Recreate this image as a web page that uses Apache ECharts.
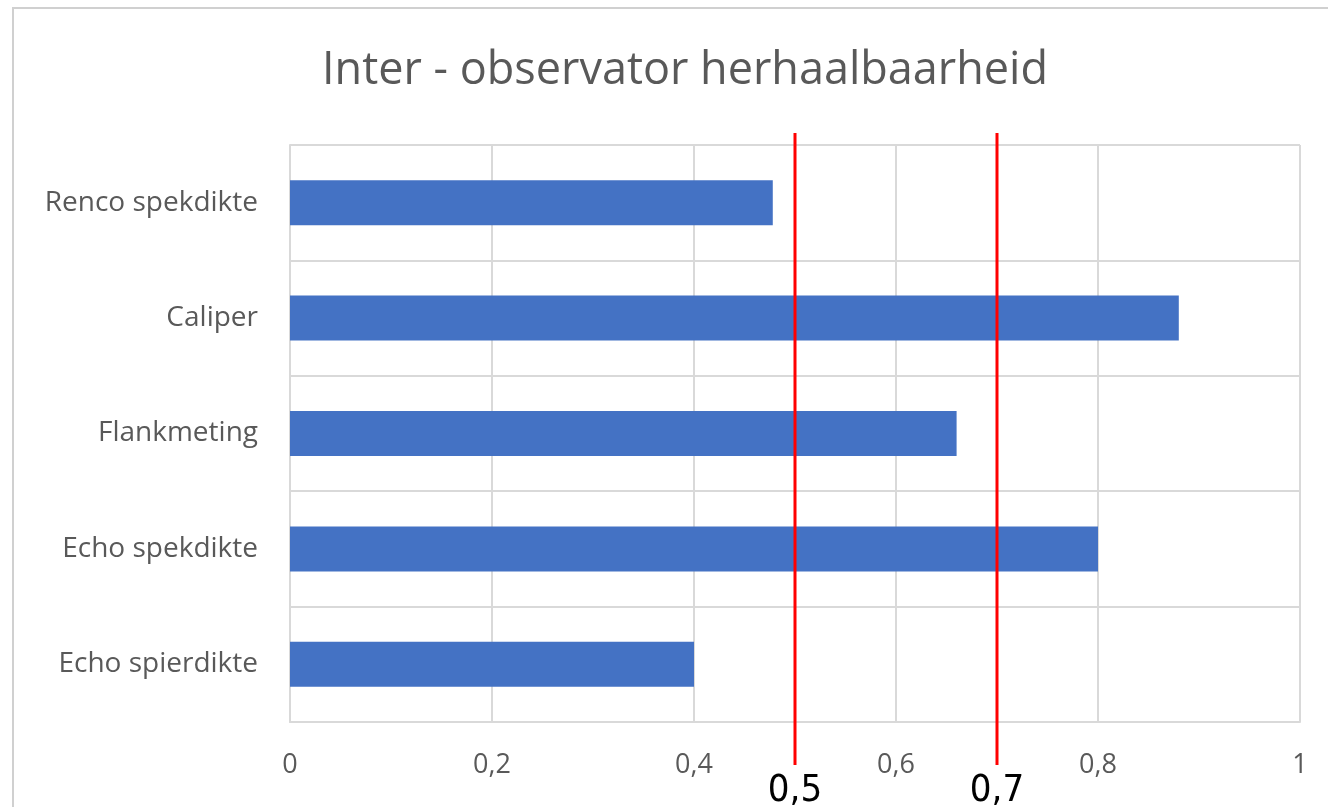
<!DOCTYPE html>
<html>
<head>
<meta charset="utf-8">
<script src="https://cdn.jsdelivr.net/npm/echarts@6/dist/echarts.min.js"></script>
<style>
    html, body { margin: 0; padding: 0; background: #fff; }
    #chart { width: 1328px; height: 807px; }
</style>
</head>
<body>
<div id="chart"></div>
<script>
const categories = ['Renco spekdikte', 'Caliper', 'Flankmeting', 'Echo spekdikte', 'Echo spierdikte'];
const values = [0.478, 0.88, 0.66, 0.80, 0.40];
const thresholds = [0.5, 0.7];
const thresholdLabels = ['0,5', '0,7'];

const colorBar = '#4472c4';
const colorText = '#595959';
const colorLines = '#d9d9d9';
const fontMain = '"Open Sans", "Noto Sans", sans-serif';

const chart = echarts.init(document.getElementById('chart'));

chart.setOption({
    animation: false,
    title: {
        text: 'Inter - observator herhaalbaarheid',
        left: 680,
        textAlign: 'center',
        top: 44,
        textStyle: {
            color: colorText,
            fontFamily: fontMain,
            fontSize: 45,
            fontWeight: 'normal'
        }
    },
    graphic: [
        {
            type: 'rect',
            shape: { x: 13, y: 8, width: 1400, height: 900 },
            style: { fill: 'none', stroke: '#d0d0d0', lineWidth: 2 },
            silent: true
        }
    ],
    grid: {
        left: 290,
        right: 28,
        top: 145,
        bottom: 85
    },
    xAxis: {
        type: 'value',
        min: 0,
        max: 1,
        interval: 0.2,
        axisLine: { show: true, lineStyle: { color: colorLines, width: 2 } },
        axisTick: { show: false },
        splitLine: { lineStyle: { color: colorLines, width: 2 } },
        axisLabel: {
            color: colorText,
            fontFamily: fontMain,
            fontSize: 27,
            margin: 30,
            formatter: v => String(Math.round(v * 10) / 10).replace('.', ',')
        }
    },
    yAxis: {
        type: 'category',
        data: categories,
        inverse: true,
        axisLine: { show: true, lineStyle: { color: colorLines, width: 2 } },
        axisTick: { show: false },
        splitLine: { show: true, interval: 0, lineStyle: { color: colorLines, width: 2 } },
        axisLabel: {
            color: colorText,
            fontFamily: fontMain,
            fontSize: 28,
            margin: 32
        }
    },
    series: [
        {
            type: 'bar',
            data: values,
            barWidth: 45,
            itemStyle: { color: colorBar }
        },
        {
            // rode drempellijnen, steken boven en onder de plot uit
            type: 'custom',
            clip: false,
            z: 10,
            data: thresholds.map((t, i) => [t, i]),
            renderItem: (params, api) => {
                const x = api.coord([api.value(0), 0])[0];
                const cs = params.coordSys;
                return {
                    type: 'group',
                    children: [
                        {
                            type: 'line',
                            shape: { x1: x, y1: cs.y - 12, x2: x, y2: cs.y + cs.height + 43 },
                            style: { stroke: '#ff0000', lineWidth: 3 }
                        },
                        {
                            type: 'text',
                            x: x,
                            y: cs.y + cs.height + 69,
                            style: {
                                text: thresholdLabels[api.value(1)],
                                fill: '#000',
                                font: '38px "Liberation Sans Narrow", "DejaVu Sans Condensed", sans-serif',
                                align: 'center',
                                verticalAlign: 'middle'
                            }
                        }
                    ]
                };
            }
        }
    ]
});
</script>
</body>
</html>
